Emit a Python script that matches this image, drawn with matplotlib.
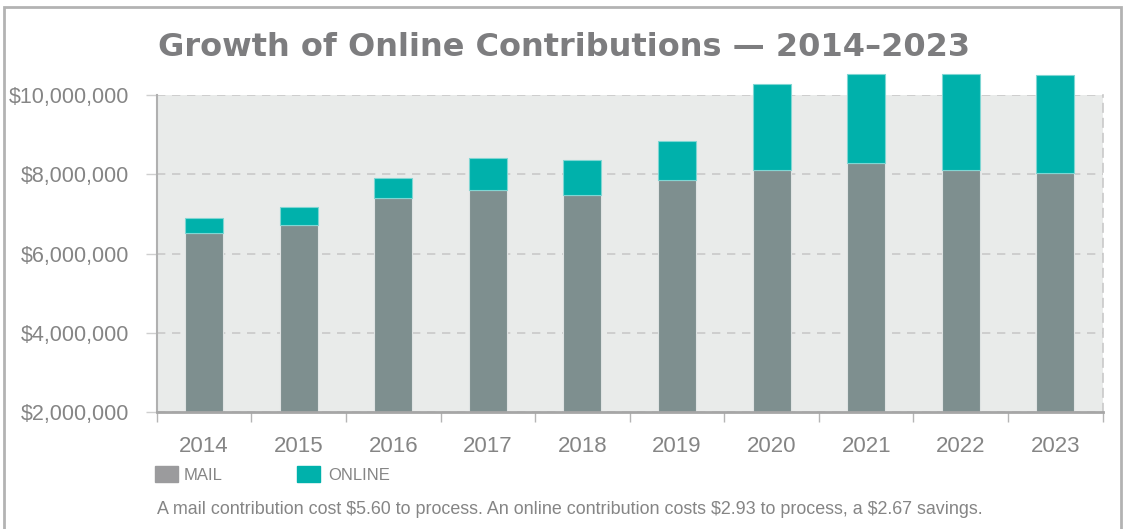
import matplotlib
matplotlib.use('Agg')
import matplotlib.pyplot as plt
import numpy as np
from matplotlib.patches import Rectangle
from matplotlib.ticker import FuncFormatter, FixedLocator

years = ['2014', '2015', '2016', '2017', '2018', '2019', '2020', '2021', '2022', '2023']
mail = [6.52, 6.73, 7.40, 7.60, 7.47, 7.86, 8.11, 8.28, 8.11, 8.03]       # millions
total = [6.89, 7.18, 7.91, 8.41, 8.37, 8.84, 10.27, 10.52, 10.52, 10.50]  # millions
online = [t - m for t, m in zip(total, mail)]
yticks = [2, 4, 6, 8, 10]

MAIL_C = '#7e8f8f'
ONLINE_C = '#00b1ab'
TXT = '#858585'
sans = ['Liberation Sans', 'DejaVu Sans']

fig = plt.figure(figsize=(11.29, 5.29), dpi=100)
ax = fig.add_axes([0.1388, 0.2206, 0.9767 - 0.1388, 0.8204 - 0.2206])
ax.set_facecolor('#e9ebea')

x = np.arange(len(years))
b1 = ax.bar(x, mail, width=0.4, color=MAIL_C, edgecolor='#dfe3e3', linewidth=0.8, zorder=3)
b2 = ax.bar(x, online, width=0.4, bottom=mail, color=ONLINE_C, edgecolor='#7fd6d3',
            linewidth=0.8, zorder=3)
# let the tallest bars poke above the plot area, but keep them cut at the bottom
clip = Rectangle((0, 0), 1, 1.3, transform=ax.transAxes, visible=False)
ax.add_patch(clip)
for p in list(b1) + list(b2):
    p.set_clip_path(clip)

ax.set_xlim(-0.5, len(years) - 0.5)
ax.set_ylim(2, 10)
ax.set_yticks(yticks)
ax.yaxis.set_major_formatter(FuncFormatter(lambda v, p: '${:,.0f}'.format(v * 1e6)))
ax.grid(axis='y', color='#c9c9c9', linestyle=(0, (5, 4)), linewidth=1.2, zorder=1)

ax.set_xticks(x)
ax.set_xticklabels(years)
ax.xaxis.set_minor_locator(FixedLocator(np.arange(-0.5, len(years), 1.0)))
ax.tick_params(axis='x', which='major', length=0, pad=17, labelsize=16, labelcolor=TXT)
ax.tick_params(axis='x', which='minor', length=7, width=1, color='#b5b5b5', direction='out')
ax.tick_params(axis='y', length=8, width=1, color='#cfcfcf', pad=12, labelsize=15.5, labelcolor=TXT)
for lab in ax.get_xticklabels() + ax.get_yticklabels():
    lab.set_family(sans)

ax.spines['top'].set_visible(False)
ax.spines['right'].set_color('#c9c9c9')
ax.spines['right'].set_linestyle((0, (5, 4)))
ax.spines['right'].set_linewidth(1.2)
ax.spines['left'].set_color('#b0b0b0')
ax.spines['left'].set_linewidth(1.5)
ax.spines['bottom'].set_color('#a6a6a6')
ax.spines['bottom'].set_linewidth(2)
ax.spines['bottom'].set_zorder(4)

fig.text(0.5, 0.911, 'Growth of Online Contributions \u2014 2014\u20132023', ha='center', va='center',
         fontsize=23, fontweight='bold', color='#7d7d7f', family=['DejaVu Sans'])

# legend
fig.patches.append(Rectangle((155 / 1129, 1 - 482 / 529), 23 / 1129, 16 / 529,
                             transform=fig.transFigure, color='#9b9b9d'))
fig.patches.append(Rectangle((297 / 1129, 1 - 482 / 529), 23 / 1129, 16 / 529,
                             transform=fig.transFigure, color=ONLINE_C))
fig.text(184 / 1129, 1 - 476 / 529, 'MAIL', fontsize=12, color=TXT, va='center', family=sans)
fig.text(328 / 1129, 1 - 476 / 529, 'ONLINE', fontsize=12, color=TXT, va='center', family=sans)

fig.text(157 / 1129, 1 - 510 / 529,
         'A mail contribution cost $5.60 to process. An online contribution costs $2.93 to process, a $2.67 savings.',
         fontsize=12.9, color=TXT, va='center', family=sans)

# frame
fig.patches.append(Rectangle((4 / 1129, -0.05), 1117 / 1129, 1.05 - 7 / 529, transform=fig.transFigure,
                             fill=False, edgecolor='#b3b3b3', linewidth=2))

fig.savefig('out.png', dpi=100)
